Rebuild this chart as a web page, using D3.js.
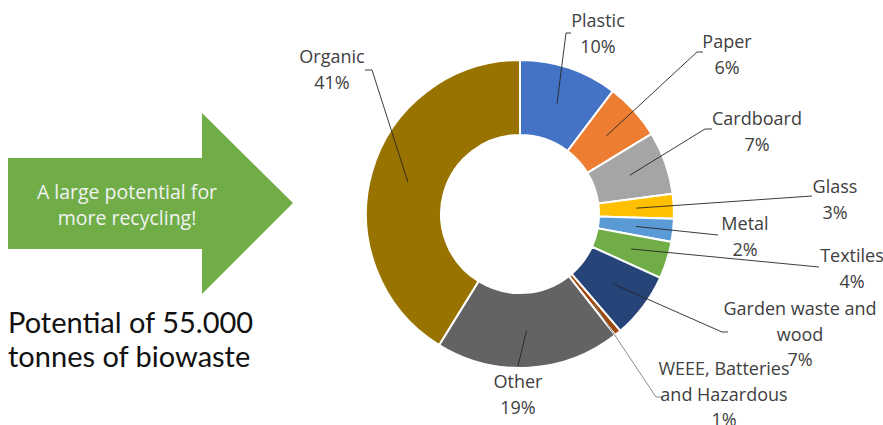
<!DOCTYPE html>
<html>
<head>
<meta charset="utf-8">
<script src="https://cdn.jsdelivr.net/npm/d3@7"></script>
<style>
  body { margin: 0; background: #fff; }
  svg { display: block; font-family: "Open Sans", Lato, sans-serif; }
</style>
</head>
<body>
<div class="canvas"></div>
<script>
// chart data (clockwise from 12 o'clock)
const categories = ['Plastic', 'Paper', 'Cardboard', 'Glass', 'Metal', 'Textiles',
  'Garden waste and\nwood', 'WEEE, Batteries\nand Hazardous', 'Other', 'Organic'];
const shares = [10.3, 6, 6.6, 2.6, 2.4, 3.9, 6.9, 0.7, 19.4, 41.2];
const colors = ['#4472C4', '#ED7D31', '#A5A5A5', '#FFC000', '#5B9BD5', '#70AD47',
  '#264478', '#9E480E', '#636363', '#997300'];

// label layout: text centre x, first baseline, leader start (tick) points
const labelLayout = [
  {x: 598, y: 27, tick: [[571, 33], [566, 33]]},
  {x: 727, y: 48, tick: [[703, 52], [697, 52]]},
  {x: 757, y: 125, tick: [[712, 129], [705, 129]]},
  {x: 835, y: 193, tick: [[812, 196]]},
  {x: 745, y: 230, tick: [[718, 235]]},
  {x: 852, y: 262, tick: [[819, 267]]},
  {x: 800, y: 315, tick: [[728, 332], [722, 332]]},
  {x: 724, y: 375, tick: [[662, 397], [656, 397]]},
  {x: 518, y: 388, tick: [[518, 366]]},
  {x: 332, y: 63, tick: [[365, 70], [372, 70]]}
];

const width = 883, height = 425;
const cx = 520, cy = 214;
const outerR = 154, innerR = 79;

const svg = d3.select('.canvas')
  .append('svg')
  .attr('width', width)
  .attr('height', height);

// left side: arrow + caption
const arrow = d3.path();
arrow.moveTo(8, 158);
arrow.lineTo(202, 158);
arrow.lineTo(202, 113);
arrow.lineTo(293, 203);
arrow.lineTo(202, 294);
arrow.lineTo(202, 249);
arrow.lineTo(8, 249);
arrow.closePath();

svg.append('path')
  .attr('d', arrow.toString())
  .attr('fill', '#70AD47');

svg.append('text')
  .attr('text-anchor', 'middle')
  .attr('fill', '#F2F2F2')
  .attr('font-size', 19.5)
  .selectAll('tspan')
  .data(['A large potential for', 'more recycling!'])
  .enter()
  .append('tspan')
  .attr('x', 127)
  .attr('y', (d, i) => 199 + i * 26)
  .text(d => d);

svg.append('text')
  .attr('fill', '#111')
  .attr('font-family', 'Lato, sans-serif')
  .attr('font-size', 29)
  .selectAll('tspan')
  .data(['Potential of 55.000', 'tonnes of biowaste'])
  .enter()
  .append('tspan')
  .attr('x', 8)
  .attr('y', (d, i) => 333 + i * 34)
  .text(d => d);

// donut
const pie = d3.pie()
  .sort(null)
  .value(d => d)
  .startAngle(0)
  .endAngle(2 * Math.PI);

const arcs = pie(shares);

const arc = d3.arc()
  .innerRadius(innerR)
  .outerRadius(outerR);

const graph = svg.append('g')
  .attr('transform', `translate(${cx},${cy})`);

graph.selectAll('path')
  .data(arcs)
  .enter()
  .append('path')
  .attr('d', arc)
  .attr('fill', (d, i) => colors[i])
  .attr('stroke', '#fff')
  .attr('stroke-width', 2);

// leader lines
const line = d3.line();
svg.append('g')
  .selectAll('path')
  .data(arcs)
  .enter()
  .append('path')
  .attr('d', (d, i) => {
    const c = arc.centroid(d);
    const pts = labelLayout[i].tick.concat([[c[0] + cx, c[1] + cy]]);
    return line(pts);
  })
  .attr('fill', 'none')
  .attr('stroke', (d, i) => i === 7 ? '#7F7F7F' : '#262626')
  .attr('stroke-width', 0.9);

// labels
const labels = svg.append('g')
  .attr('font-size', 18)
  .attr('fill', '#404040')
  .attr('text-anchor', 'middle');

labels.selectAll('text')
  .data(arcs)
  .enter()
  .append('text')
  .each(function(d, i) {
    const lines = categories[i].split('\n').concat([Math.round(d.data) + '%']);
    const pos = labelLayout[i];
    d3.select(this).selectAll('tspan')
      .data(lines)
      .enter()
      .append('tspan')
      .attr('x', pos.x)
      .attr('y', (t, j) => pos.y + j * 25.5)
      .text(t => t);
  });
</script>
</body>
</html>
